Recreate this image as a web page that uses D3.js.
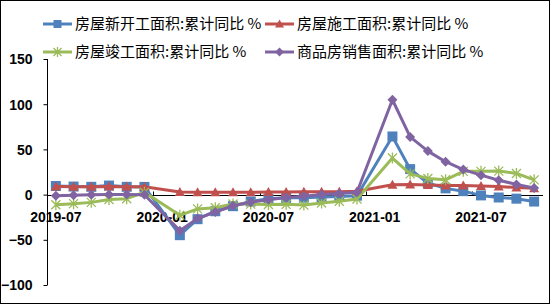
<!DOCTYPE html>
<html><head><meta charset="utf-8">
<script src="https://cdn.jsdelivr.net/npm/d3@7"></script>
<style>html,body{margin:0;padding:0;background:#fff;}svg{display:block;}</style>
</head><body>
<svg id="c" width="550" height="304"></svg>
<script>
const months = ["2019-07","2019-08","2019-09","2019-10","2019-11","2019-12",
  "2020-02","2020-03","2020-04","2020-05","2020-06","2020-07","2020-08","2020-09","2020-10","2020-11","2020-12",
  "2021-02","2021-03","2021-04","2021-05","2021-06","2021-07","2021-08","2021-09","2021-10"];
const newStart = [9.5,8.9,8.6,10.0,8.6,8.5,-44.9,-27.2,-18.4,-12.8,-7.6,-4.5,-3.6,-3.4,-2.6,-2.0,-1.2,64.3,28.2,12.8,6.9,3.8,-0.9,-3.2,-4.5,-7.7];
const underCon = [9.0,8.8,8.7,9.0,8.7,8.7,2.9,2.6,2.5,2.6,2.6,2.8,3.0,3.1,3.2,3.2,3.7,10.9,11.2,10.5,10.1,10.2,9.5,8.9,7.9,7.1];
const completed = [-11.3,-10.0,-8.6,-5.5,-4.5,2.6,-22.9,-15.8,-14.5,-10.4,-10.5,-11.0,-10.8,-11.6,-9.2,-7.3,-4.9,40.4,22.9,17.9,16.4,25.7,25.7,26.0,23.4,16.3];
const sales = [-1.3,-0.6,-0.1,0.1,0.2,-0.1,-39.9,-26.3,-19.3,-12.3,-8.4,-5.8,-3.3,-1.8,0.0,1.3,2.6,104.9,63.8,48.1,36.4,27.7,21.5,15.9,11.3,7.2];
const seriesNames = ["房屋新开工面积:累计同比 %","房屋施工面积:累计同比 %","房屋竣工面积:累计同比 %","商品房销售面积:累计同比 %"];
const seriesColors = ["#4F81BD","#C0504D","#9BBB59","#8064A2"];
const seriesMarkers = ["square","triangle","star","diamond"];
const xTickLabels = ["2019-07","2020-01","2020-07","2021-01","2021-07"];
const yTicks = [150,100,50,0,-50,-100];

const svg = d3.select("#c");
const mIdx = s => { const [y,m] = s.split("-").map(Number); return (y-2019)*12 + (m-7); };
const x = d3.scaleLinear().domain([-0.5, 27.5]).range([47, 543]);
const y = d3.scaleLinear().domain([-100, 150]).range([285, 59]);

svg.append("rect").attr("x",0.5).attr("y",0.5).attr("width",549).attr("height",303)
  .attr("fill","#fff").attr("stroke","#000").attr("stroke-width",1);

// Y axis
const yAxis = d3.axisLeft(y).tickValues(yTicks).tickSize(4).tickFormat(d3.format("d"));
const gy = svg.append("g").attr("transform","translate(47.5,0)").call(yAxis);
gy.select(".domain").attr("stroke","#000").attr("d","M0,"+y(150)+"V"+y(-100));
gy.selectAll(".tick line").attr("stroke","#000");
gy.selectAll("text").attr("font-family","'Liberation Sans',Arial,sans-serif").attr("font-weight","bold")
  .attr("font-size","14px").attr("fill","#000").attr("x",-15).attr("dy","0.35em");

// X axis at zero
const y0 = Math.round(y(0))+0.5;
svg.append("line").attr("x1",47).attr("x2",543).attr("y1",y0).attr("y2",y0).attr("stroke","#000").attr("stroke-width",1);
const xg = svg.append("g");
xTickLabels.forEach(t => {
  const xi = x(mIdx(t));
  const xt = Math.round(x(mIdx(t)-0.5))+0.5;
  xg.append("line").attr("x1",xt).attr("x2",xt).attr("y1",y0).attr("y2",y0-4).attr("stroke","#000");
  xg.append("text").attr("x",xi).attr("y",222).attr("text-anchor","middle")
    .attr("font-family","'Liberation Sans',Arial,sans-serif").attr("font-weight","bold").attr("font-size","14px")
    .attr("fill","#000").text(t);
});

function markerPath(type, size){
  const s = size/2;
  if(type==="square") return `M${-s},${-s}H${s}V${s}H${-s}Z`;
  if(type==="triangle") return `M0,${-s-0.5}L${s+0.5},${s-0.5}L${-s-0.5},${s-0.5}Z`;
  if(type==="diamond") return `M0,${-s-0.5}L${s+0.5},0L0,${s+0.5}L${-s-0.5},0Z`;
  if(type==="star") return `M${-s},${-s}L${s},${s}M${-s},${s}L${s},${-s}M0,${-s-1}V${s+1}`;
}
function drawMarker(g, type, color, cx, cy, size){
  const p = g.append("path").attr("d", markerPath(type,size)).attr("transform",`translate(${cx},${cy})`);
  if(type==="star") p.attr("fill","none").attr("stroke",color).attr("stroke-width",1.3);
  else p.attr("fill",color).attr("stroke","none");
}

const allSeries = [newStart, underCon, completed, sales];
const line = d3.line().x((d,i)=>x(mIdx(months[i]))).y(d=>y(d));
allSeries.forEach((vals, si) => {
  const g = svg.append("g");
  g.append("path").datum(vals).attr("d", line).attr("fill","none")
    .attr("stroke", seriesColors[si]).attr("stroke-width",3).attr("stroke-linejoin","round");
  vals.forEach((v,i) => drawMarker(g, seriesMarkers[si], seriesColors[si], x(mIdx(months[i])), y(v), si===0?10:9));
});

// Legend
const legPos = [[43,24],[265,24],[43,52],[265,52]];
seriesNames.forEach((n,i) => {
  const [lx,ly] = legPos[i];
  const g = svg.append("g");
  g.append("line").attr("x1",lx).attr("x2",lx+29).attr("y1",ly).attr("y2",ly).attr("stroke",seriesColors[i]).attr("stroke-width",3);
  drawMarker(g, seriesMarkers[i], seriesColors[i], lx+14.5, ly, 8);
  g.append("text").attr("x",lx+32).attr("y",ly).attr("dy","0.36em")
    .attr("font-family","'Noto Sans CJK SC',sans-serif").attr("font-size","15px").attr("fill","#000").text(n);
});
</script>
</body></html>
